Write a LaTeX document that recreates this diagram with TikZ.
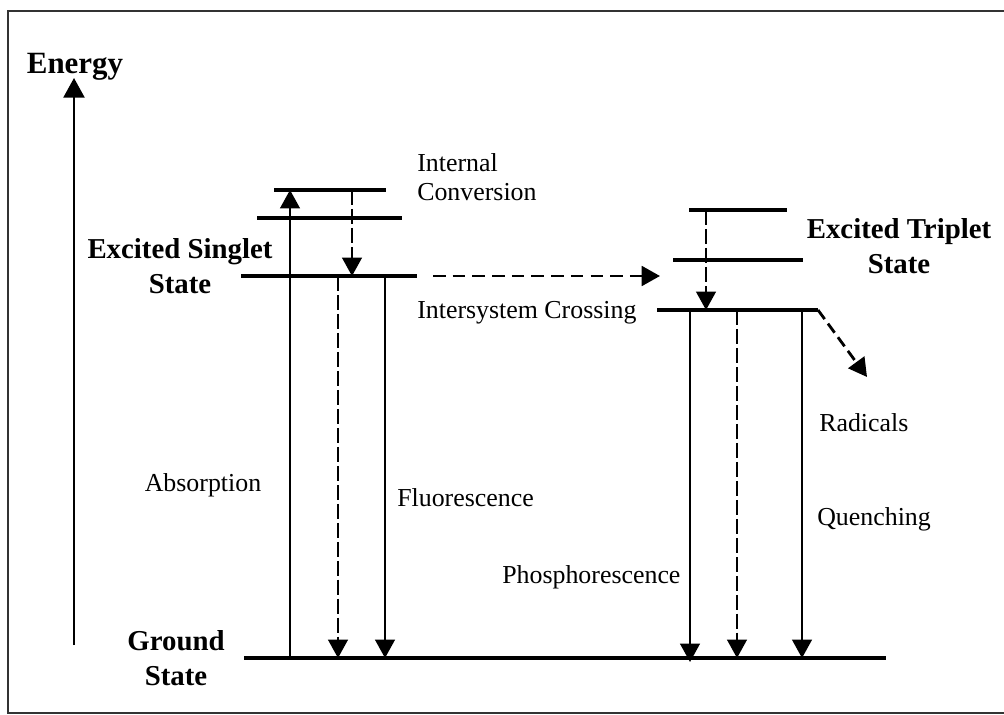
\documentclass[tikz,border=0pt]{standalone}
\usepackage{fontspec}
\setmainfont{Liberation Serif}
\usetikzlibrary{arrows.meta}

\begin{document}
\begin{tikzpicture}[x=0.025cm, y=-0.025cm,
    level/.style={line width=2.8pt},
    trans/.style={line width=1.3pt, -{Triangle[length=13pt, width=14pt]}},
    nonrad/.style={trans, dash pattern=on 11pt off 2.5pt},
    hop/.style={line width=2pt, dash pattern=on 9pt off 5pt, -{Triangle[length=13pt, width=14pt]}},
    statelbl/.style={font=\fontsize{20.5}{24.5}\selectfont\bfseries, align=center, inner sep=0pt},
    proclbl/.style={font=\fontsize{18.4}{21.3}\selectfont, align=left, inner sep=0pt}]
      \useasboundingbox (0,0) rectangle (1004,715);
      % Frame (open on the right)
      \draw[black!80, line width=1.4pt] (1004,11) -- (8,11) -- (8,713) -- (1004,713);

      % Energy axis
      \coordinate (eBot) at (74,645);
      \coordinate (eTop) at (74,78);
      \draw[line width=1.5pt, -{Triangle[length=14pt, width=15pt]}] (eBot) -- (eTop);
      \node[statelbl, font=\fontsize{22}{26}\selectfont\bfseries, anchor=base] (energy) at (75,74) {Energy};

      % Singlet levels
      \coordinate (sTopL) at (274,190); \coordinate (sTopR) at (386,190);
      \coordinate (sMidL) at (257,218); \coordinate (sMidR) at (402,218);
      \coordinate (sLowL) at (241,276); \coordinate (sLowR) at (417,276);
      \draw[level] (sTopL) -- (sTopR);
      \draw[level] (sMidL) -- (sMidR);
      \draw[level] (sLowL) -- (sLowR);

      % Triplet levels
      \coordinate (tTopL) at (689,210); \coordinate (tTopR) at (787,210);
      \coordinate (tMidL) at (673,260); \coordinate (tMidR) at (803,260);
      \coordinate (tLowL) at (657,310); \coordinate (tLowR) at (818,310);
      \draw[level] (tTopL) -- (tTopR);
      \draw[level] (tMidL) -- (tMidR);
      \draw[level] (tLowL) -- (tLowR);

      % Ground level
      \coordinate (gL) at (244,658); \coordinate (gR) at (886,658);
      \draw[level, line width=3.2pt] (gL) -- (gR);

      % Singlet side transitions
      \coordinate (absBot) at (290,658); \coordinate (absTop) at (290,190);
      \draw[trans] (absBot) -- (absTop);
      \coordinate (icTop) at (352,190); \coordinate (icBot) at (352,276);
      \draw[nonrad] (icTop) -- (icBot);
      \coordinate (flDTop) at (338,276); \coordinate (flDBot) at (338,658);
      \draw[nonrad] (flDTop) -- (flDBot);
      \coordinate (flTop) at (385,276); \coordinate (flBot) at (385,658);
      \draw[trans] (flTop) -- (flBot);

      % Intersystem crossing
      \coordinate (iscA) at (433,276); \coordinate (iscB) at (660,276);
      \draw[hop] (iscA) -- (iscB);

      % Triplet side transitions
      \coordinate (ticTop) at (706,210); \coordinate (ticBot) at (706,310);
      \draw[nonrad] (ticTop) -- (ticBot);
      \coordinate (phTop) at (690,310); \coordinate (phBot) at (690,662);
      \draw[trans] (phTop) -- (phBot);
      \coordinate (tdTop) at (737,310); \coordinate (tdBot) at (737,658);
      \draw[nonrad] (tdTop) -- (tdBot);
      \coordinate (qTop) at (802,310); \coordinate (qBot) at (802,658);
      \draw[trans] (qTop) -- (qBot);
      \coordinate (radEnd) at (867,377);
      \draw[hop, dash pattern=on 8pt off 4pt] (tLowR) -- (radEnd);

      % State labels
      \node[statelbl, anchor=base] (singlet) at (180,293) {Excited Singlet\\State};
      \node[statelbl, anchor=base] (triplet) at (899,273) {Excited Triplet\\State};
      \node[statelbl, anchor=base] (ground) at (176,685) {Ground\\State};

      % Process labels
      \node[proclbl, anchor=base west] (intconv) at (417,201) {Internal\\Conversion};
      \node[proclbl, anchor=base west] (iscLbl) at (417,318) {Intersystem Crossing};
      \node[proclbl, anchor=base] (absLbl) at (203,491) {Absorption};
      \node[proclbl, anchor=base west] (flLbl) at (397,506) {Fluorescence};
      \node[proclbl, anchor=base west] (phLbl) at (502,583) {Phosphorescence};
      \node[proclbl, anchor=base west] (radLbl) at (819,431) {Radicals};
      \node[proclbl, anchor=base west] (qLbl) at (817,525) {Quenching};
    \end{tikzpicture}
\end{document}
